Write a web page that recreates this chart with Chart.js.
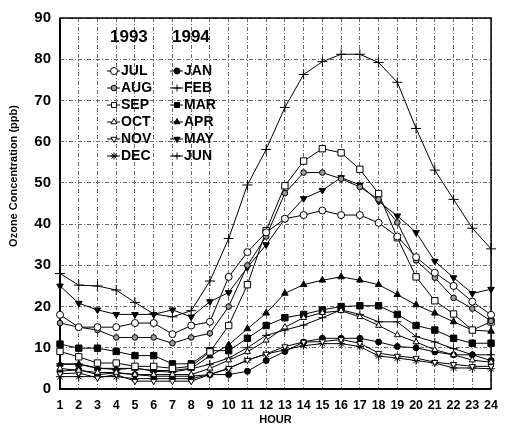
<!DOCTYPE html>
<html><head><meta charset="utf-8">
<script src="https://cdn.jsdelivr.net/npm/chart.js@4/dist/chart.umd.min.js"></script>
<style>html,body{margin:0;padding:0;background:#fff}#wrap{width:507px;height:435px}</style>
</head><body><div id="wrap"><canvas id="c" width="507" height="435"></canvas></div>
<script>
const hours = ['1','2','3','4','5','6','7','8','9','10','11','12','13','14','15','16','17','18','19','20','21','22','23','24'];
const yearLabels = ['1993','1994'];
const monthLabels = ['JUL','AUG','SEP','OCT','NOV','DEC','JAN','FEB','MAR','APR','MAY','JUN'];
const yAxisTitle = 'Ozone Concentration (ppb)';
const xAxisTitle = 'HOUR';

const jul = [18, 15, 15, 15, 16, 16, 13.3, 15.4, 16.3, 27.2, 33.2, 38, 41.3, 42.2, 43.3, 42.2, 42.2, 40.3, 37, 32, 28.2, 25, 21.2, 18];
const aug = [16, 15, 14.3, 12.5, 12.5, 12.5, 11.1, 12.5, 13.5, 20, 30, 37, 47.5, 52.5, 52.5, 51, 49, 46, 40.4, 31.2, 27, 22.1, 19.5, 16.5];
const sep = [9.1, 7.8, 6.3, 6.3, 5.5, 5.5, 5, 5.5, 9, 15.4, 25.3, 38.4, 49.3, 55.3, 58.3, 57.3, 53.3, 47.4, 36.7, 27.2, 21.4, 18.2, 14.3, 16.3];
const oct = [5, 4.5, 4, 4, 3.5, 3.5, 3.5, 3.5, 5, 7, 9, 11.8, 15, 17.3, 18.5, 19, 17.5, 15.4, 13.1, 11.4, 9.5, 8.3, 7, 6.5];
const nov = [3.7, 3.9, 2.7, 3.5, 1.9, 1.9, 1.9, 1.9, 3.5, 5, 7, 8.5, 10.3, 11.4, 11.5, 12, 11.1, 8.7, 8, 7.5, 6.5, 6, 5.5, 5.5];
const dec = [3, 3, 3, 3, 2.5, 2.5, 2.5, 2.5, 3.5, 5, 7, 8.5, 9.5, 10.5, 11, 11, 10.3, 8, 7.5, 6.9, 6.3, 5.1, 5.1, 4.9];
const jan = [4.3, 4.7, 3.5, 3.9, 3.5, 3.1, 3.1, 3.1, 3.5, 3.5, 4.3, 6.9, 9.1, 11.4, 12.3, 12.3, 12.3, 11.4, 10.3, 10, 9, 8.3, 8.3, 6.9];
const feb = [6.1, 6.1, 5.1, 4.7, 5.1, 4.3, 4.1, 4.9, 6, 7.5, 10, 13, 14.3, 15.5, 17.3, 19.2, 18.1, 16.3, 16.3, 12.7, 11.4, 9.8, 8.3, 8.3];
const mar = [10.9, 9.9, 9.9, 9.1, 8.1, 8.1, 6.1, 6.1, 9.3, 9.3, 12.3, 15.4, 17.3, 18.1, 19.2, 20, 20.2, 20.2, 18.1, 15.4, 14.3, 12.3, 11.1, 11.1];
const apr = [6, 6, 5, 5, 5, 4.5, 4.5, 5, 8, 10.7, 14.6, 18.4, 23.2, 25.3, 26.4, 27.2, 26.4, 25.3, 22.9, 20.4, 18.4, 16.3, 14.3, 14];
const may = [25, 20.8, 19.2, 18.1, 18.1, 18.1, 19.2, 17.5, 21.2, 23.4, 29.5, 35, 41.3, 46.2, 48.2, 51.3, 49.5, 45.5, 42, 38, 31, 27, 23.2, 24.2];
const jun = [28, 25.2, 25, 24, 21, 18.2, 17.5, 19, 26.2, 36.5, 49.5, 58.1, 68.3, 76.3, 79.4, 81.2, 81.2, 79.2, 74.4, 63.2, 53.1, 46, 39, 34];

const seriesValues = [jul, aug, sep, oct, nov, dec, jan, feb, mar, apr, may, jun];
// marker styles: [pointStyle, radius, fill, rotation]
const markerStyles = [
  ['circle', 3.5, '#fff', 0],
  ['circle', 2.8, '#999', 0],
  ['rect', 4.5, '#fff', 0],
  ['triangle', 3.5, '#fff', 0],
  ['triangle', 3.5, '#fff', 180],
  ['star', 4, '#000', 0],
  ['circle', 3, '#000', 0],
  ['cross', 4, '#000', 0],
  ['rect', 4.5, '#000', 0],
  ['triangle', 3.8, '#000', 0],
  ['triangle', 3.8, '#000', 180],
  ['cross', 5, '#000', 0]
];

const FONT = '"Liberation Sans", Arial, Helvetica, sans-serif';

const datasets = seriesValues.map((vals, i) => ({
  label: monthLabels[i],
  data: vals,
  borderColor: '#000',
  borderWidth: 1,
  pointStyle: markerStyles[i][0],
  pointRadius: markerStyles[i][1],
  pointBackgroundColor: markerStyles[i][2],
  pointBorderColor: '#000',
  pointBorderWidth: 1,
  pointRotation: markerStyles[i][3],
  fill: false,
  tension: 0
}));

const framePlugin = {
  id: 'frame',
  beforeDatasetsDraw(chart) {
    const {ctx, chartArea: a} = chart;
    ctx.save();
    ctx.setLineDash([]);
    ctx.strokeStyle = '#000';
    ctx.lineWidth = 1.5;
    ctx.strokeRect(a.left, a.top, a.right - a.left, a.bottom - a.top);
    ctx.lineWidth = 2;
    ctx.beginPath();
    ctx.moveTo(a.left, a.top); ctx.lineTo(a.left, a.bottom); ctx.lineTo(a.right, a.bottom);
    ctx.stroke();
    ctx.restore();
  }
};

const legendPlugin = {
  id: 'inlineLegend',
  afterDatasetsDraw(chart) {
    const ctx = chart.ctx;
    ctx.save();
    ctx.fillStyle = '#000';
    ctx.textBaseline = 'middle';
    ctx.textAlign = 'left';
    ctx.font = 'bold 17px ' + FONT;
    ctx.fillText(yearLabels[0], 110, 37);
    ctx.fillText(yearLabels[1], 172, 37);
    ctx.font = 'bold 14px ' + FONT;
    chart.data.datasets.forEach((ds, i) => {
      const col = i < 6 ? 0 : 1;
      const row = i % 6;
      const mx = col ? 177 : 114;
      const y = 71 + row * 17;
      ctx.setLineDash([]);
      ctx.strokeStyle = '#000';
      ctx.lineWidth = 1;
      ctx.beginPath(); ctx.moveTo(mx - 7, y); ctx.lineTo(mx + 6, y); ctx.stroke();
      ctx.fillStyle = ds.pointBackgroundColor;
      Chart.helpers.drawPoint(ctx, {
        pointStyle: ds.pointStyle,
        radius: Math.min(ds.pointRadius, 3.5),
        rotation: ds.pointRotation,
        borderWidth: 1
      }, mx, y);
      ctx.fillStyle = '#000';
      ctx.fillText(ds.label, mx + 7, y + 0.5);
    });
    ctx.restore();
  }
};

const yTitlePlugin = {
  id: 'yTitle',
  afterDraw(chart) {
    const ctx = chart.ctx;
    ctx.save();
    ctx.translate(14, 176);
    ctx.rotate(-Math.PI / 2);
    ctx.font = 'bold 11px ' + FONT;
    ctx.fillStyle = '#000';
    ctx.textAlign = 'center';
    ctx.textBaseline = 'middle';
    ctx.fillText(yAxisTitle, 0, 0);
    ctx.restore();
  }
};

new Chart(document.getElementById('c'), {
  type: 'line',
  data: { labels: hours, datasets },
  options: {
    responsive: false,
    devicePixelRatio: 1,
    animation: false,
    layout: { padding: { top: 16, right: 14, bottom: 0, left: 0 } },
    plugins: { legend: { display: false }, tooltip: { enabled: false } },
    scales: {
      x: {
        type: 'category',
        offset: false,
        grid: { color: '#666', lineWidth: 1, drawTicks: false },
        border: { display: false, dash: [4, 2, 1, 2] },
        ticks: { color: '#000', font: { family: FONT, size: 12.5, weight: 'bold' }, padding: 9, maxRotation: 0, autoSkip: false },
        title: { display: true, text: xAxisTitle, color: '#000', font: { family: FONT, size: 11, weight: 'bold' }, padding: { top: 0, bottom: 8 } },
        afterFit: s => { s.height = 46; }
      },
      y: {
        min: 0, max: 90,
        grid: { color: '#666', lineWidth: 1, drawTicks: false },
        border: { display: false, dash: [4, 2, 1, 2] },
        ticks: { stepSize: 10, color: '#000', font: { family: FONT, size: 15, weight: 'bold' }, padding: 9 },
        afterFit: s => { s.width = 60; }
      }
    }
  },
  plugins: [framePlugin, legendPlugin, yTitlePlugin]
});
</script>
</body></html>
